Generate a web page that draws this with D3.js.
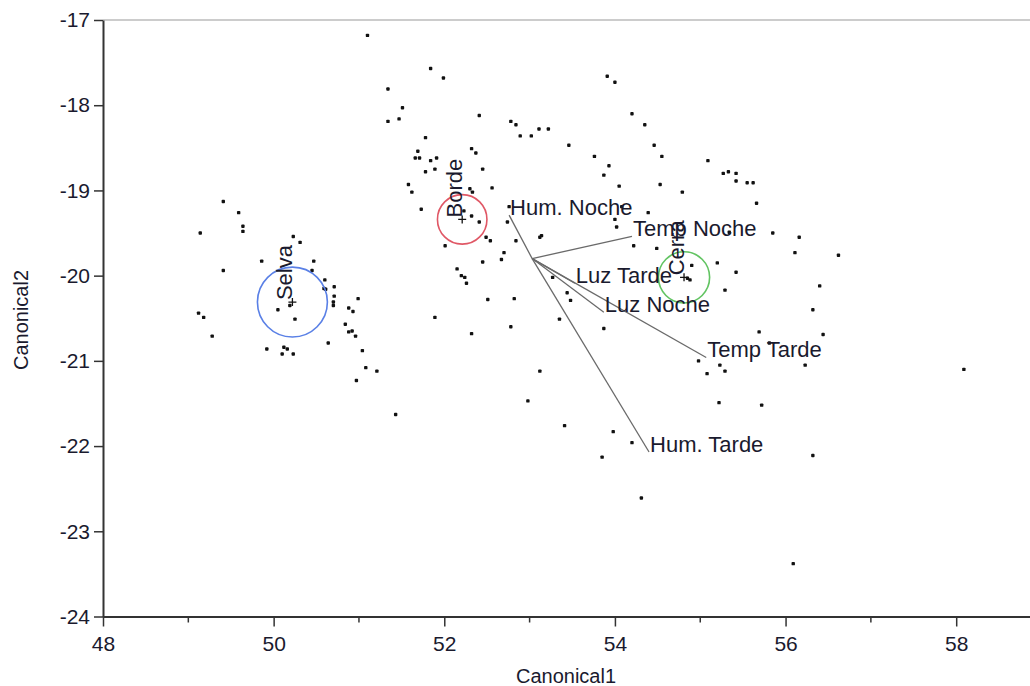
<!DOCTYPE html>
<html>
<head>
<meta charset="utf-8">
<script src="https://cdn.jsdelivr.net/npm/d3@7"></script>
<style>
  body { margin: 0; background: #fff; }
  svg { display: block; font-family: "Liberation Sans", Arial, sans-serif; }
  .axis text { font-size: 21px; fill: #1a1a2e; }
  .axis path, .axis line { stroke: #333; }
</style>
</head>
<body>
<svg id="chart" width="1030" height="686"></svg>
<script>
// observations: [Canonical1, Canonical2]
const obsPoints = [
  [51.10,-17.18],[51.84,-17.57],[51.99,-17.68],[51.34,-17.81],[51.51,-18.03],[51.34,-18.19],[51.47,-18.16],
  [52.41,-18.12],[51.78,-18.38],[51.69,-18.54],[51.66,-18.62],[51.71,-18.62],[51.84,-18.65],[51.91,-18.62],
  [51.78,-18.78],[51.89,-18.75],[52.32,-18.51],[52.37,-18.56],[52.45,-18.75],[51.58,-18.93],[51.62,-19.02],
  [52.30,-18.98],[52.33,-19.02],[52.56,-18.97],[51.73,-19.22],[52.23,-19.24],[52.32,-19.30],[52.41,-19.37],
  [49.41,-19.13],[49.59,-19.26],[49.64,-19.42],[49.64,-19.48],
  [53.91,-17.66],[54.00,-17.73],[52.78,-18.19],[52.84,-18.23],[52.89,-18.36],[53.02,-18.36],[53.11,-18.28],
  [53.22,-18.28],[53.46,-18.47],[54.20,-18.10],[54.35,-18.23],[54.46,-18.47],[54.55,-18.60],[53.76,-18.60],
  [53.93,-18.71],[53.87,-18.82],[54.05,-18.95],[54.53,-18.93],[54.79,-19.02],[55.09,-18.65],[55.27,-18.80],
  [55.33,-18.78],[55.42,-18.80],[55.42,-18.89],[55.55,-18.91],[55.62,-18.91],[55.66,-19.15],[54.39,-19.26],
  [54.00,-19.34],[54.02,-19.43],[52.76,-19.19],[52.74,-19.37],[54.08,-19.19],
  [53.14,-19.53],[53.12,-19.55],[52.49,-19.55],[52.54,-19.59],[52.84,-19.59],[52.70,-19.73],[54.22,-19.65],
  [54.49,-19.68],[55.85,-19.50],[56.11,-19.73],[52.45,-19.84],[52.67,-19.81],[55.20,-19.85],[55.42,-19.96],
  [54.90,-19.88],[54.85,-20.03],[54.88,-20.05],[53.27,-20.02],[53.44,-20.20],[53.48,-20.29],[52.51,-20.28],
  [52.82,-20.27],[55.29,-20.17],[53.35,-20.51],[52.78,-20.60],[53.87,-20.62],[55.69,-20.66],[53.12,-21.12],
  [54.98,-21.00],[55.08,-21.15],[55.23,-21.05],[55.29,-21.12],
  [56.16,-19.55],[55.34,-19.49],[56.62,-19.76],[56.40,-20.12],[56.32,-20.40],[56.44,-20.69],[55.81,-20.79],
  [56.23,-21.05],[58.09,-21.10],
  [49.14,-19.50],[50.23,-19.54],[50.31,-19.61],[49.86,-19.83],[49.41,-19.94],[50.47,-19.83],[50.45,-19.94],
  [50.60,-20.05],[50.59,-20.15],[50.61,-20.16],[50.71,-20.13],[50.71,-20.24],[50.70,-20.31],[50.70,-20.35],
  [50.99,-20.27],[50.88,-20.38],[50.93,-20.42],[49.12,-20.44],[49.18,-20.49],[50.05,-20.40],[50.19,-20.35],
  [50.25,-20.51],[50.84,-20.57],[50.88,-20.66],[50.92,-20.65],[50.96,-20.71],[49.28,-20.71],[49.92,-20.86],
  [50.12,-20.84],[50.16,-20.86],[50.10,-20.92],[50.23,-20.92],[50.64,-20.79],[51.04,-20.88],[51.08,-21.08],
  [51.21,-21.12],[50.97,-21.23],[51.43,-21.63],[52.01,-19.65],[52.15,-19.92],[52.20,-20.00],[52.24,-20.02],
  [52.26,-20.09],[51.89,-20.49],[52.32,-20.68],
  [52.98,-21.47],[53.41,-21.76],[53.98,-21.83],[54.20,-21.96],[53.85,-22.13],[54.31,-22.61],[55.22,-21.49],
  [55.72,-21.52],[56.32,-22.11],[56.09,-23.38]
];

// group means + confidence circle radius (canonical units)
const groupNames = ["Selva", "Borde", "Cerra"];
const groupC1 = [50.22, 52.21, 54.81];
const groupC2 = [-20.31, -19.34, -20.02];
const groupRadius = [0.41, 0.29, 0.30];
const groupColors = ["#5a80e6", "#e05866", "#62c462"];

// biplot rays
const rayOrigin = [53.03, -19.80];
const rayNames = ["Hum. Noche", "Temp Noche", "Luz Tarde", "Luz Noche", "Temp Tarde", "Hum. Tarde"];
const rayC1 = [52.76, 54.20, 53.53, 53.87, 55.07, 54.40];
const rayC2 = [-19.29, -19.54, -20.09, -20.43, -20.96, -22.07];

const xTicks = [48, 50, 52, 54, 56, 58];
const xMinorTicks = [49, 51, 53, 55, 57];
const yTicks = [-17, -18, -19, -20, -21, -22, -23, -24];

const svg = d3.select("#chart");
const margin = { left: 103, right: 0, top: 20, bottom: 70 };
const W = 1030, H = 686;

const x = d3.scaleLinear().domain([48, 58.865]).range([margin.left, W]);
const y = d3.scaleLinear().domain([-24, -17]).range([H - margin.bottom + 0.5, margin.top]);

// top frame line
svg.append("line")
  .attr("x1", margin.left).attr("x2", W)
  .attr("y1", y(-17)).attr("y2", y(-17))
  .attr("stroke", "#999").attr("stroke-width", 1);

// minor x ticks
svg.append("g")
  .attr("transform", `translate(0,${y(-24)})`)
  .selectAll("line").data(xMinorTicks).join("line")
  .attr("x1", d => x(d)).attr("x2", d => x(d))
  .attr("y1", 0).attr("y2", 6)
  .attr("stroke", "#333").attr("stroke-width", 1.5);

const xAxis = svg.append("g").attr("class", "axis")
  .attr("transform", `translate(0,${y(-24)})`)
  .call(d3.axisBottom(x).tickValues(xTicks).tickSize(10).tickSizeOuter(0).tickPadding(10).tickFormat(d => String(d)));

const yAxis = svg.append("g").attr("class", "axis")
  .attr("transform", `translate(${margin.left},0)`)
  .call(d3.axisLeft(y).tickValues(yTicks).tickSize(9).tickSizeOuter(0).tickPadding(4).tickFormat(d => String(d)));

svg.selectAll(".axis path").attr("stroke-width", 2);
svg.selectAll(".axis line").attr("stroke-width", 1.5);

// axis titles
svg.append("text")
  .attr("x", 566).attr("y", 683)
  .attr("text-anchor", "middle")
  .attr("font-size", 20).attr("fill", "#1a1a2e")
  .text("Canonical1");

svg.append("text")
  .attr("transform", "translate(28,320) rotate(-90)")
  .attr("text-anchor", "middle")
  .attr("font-size", 20).attr("fill", "#1a1a2e")
  .text("Canonical2");

// rays
const rays = rayNames.map((n, i) => ({ name: n, c1: rayC1[i], c2: rayC2[i] }));
svg.append("g").selectAll("line").data(rays).join("line")
  .attr("x1", x(rayOrigin[0])).attr("y1", y(rayOrigin[1]))
  .attr("x2", d => x(d.c1)).attr("y2", d => y(d.c2))
  .attr("stroke", "#6a6a6a").attr("stroke-width", 1.3);

// points
svg.append("g").selectAll("rect").data(obsPoints).join("rect")
  .attr("x", d => x(d[0]) - 1.7).attr("y", d => y(d[1]) - 1.7)
  .attr("width", 3.4).attr("height", 3.4)
  .attr("rx", 0.9)
  .attr("fill", "#111");

// group circles
const groups = groupNames.map((n, i) => ({ name: n, c1: groupC1[i], c2: groupC2[i], r: groupRadius[i], color: groupColors[i] }));
const gg = svg.append("g").selectAll("g").data(groups).join("g")
  .attr("transform", d => `translate(${x(d.c1)},${y(d.c2)})`);

gg.append("circle")
  .attr("r", d => x(d.c1 + d.r) - x(d.c1))
  .attr("fill", "none")
  .attr("stroke", d => d.color)
  .attr("stroke-width", 1.6);

gg.append("path")
  .attr("d", "M-4,0H4M0,-4V4")
  .attr("stroke", "#111").attr("stroke-width", 1.3);

gg.append("text")
  .attr("transform", "rotate(-90)")
  .attr("x", 2).attr("y", 0)
  .attr("font-size", 22).attr("fill", "#1a1a2e")
  .text(d => d.name);

// ray labels
svg.append("g").selectAll("text").data(rays).join("text")
  .attr("x", d => x(d.c1) + 1).attr("y", d => y(d.c2))
  .attr("font-size", 22).attr("fill", "#1a1a2e")
  .text(d => d.name);
</script>
</body>
</html>
